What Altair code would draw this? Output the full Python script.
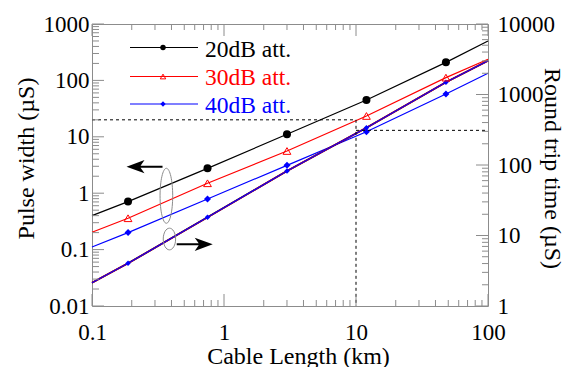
import altair as alt
import pandas as pd

FONT = "Liberation Serif"
W, H = 396, 282

# ---- data ----
cable_km_line = [0.1, 0.1875, 0.75, 3, 12, 48, 100]
pulse20_line = [0.40, 0.71, 2.76, 11.1, 45.0, 209, 500]
pulse30_line = [0.203, 0.36, 1.50, 5.6, 23.4, 112, 237]
pulse40_line = [0.111, 0.20, 0.79, 3.12, 12.3, 57.4, 134]
roundtrip_line = [2.14, 4.03, 18.1, 82.2, 338, 1489, 3015]

cable_km_pts = [0.1875, 0.75, 3, 12, 48]
pulse20_pts = [0.71, 2.76, 11.1, 44.9, 209]
pulse30_pts = [0.36, 1.50, 5.6, 23.4, 112]
pulse40_pts = [0.20, 0.79, 3.12, 12.3, 57.4]
roundtrip_pts = [4.03, 18.1, 82.2, 338, 1489]

series_labels = ["20dB att.", "30dB att.", "40dB att."]
series_colors = ["#000000", "#ff0000", "#0000ff"]

x_ticks = [0.1, 1, 10, 100]
left_ticks = [0.01, 0.1, 1, 10, 100, 1000]
right_ticks = [1, 10, 100, 1000, 10000]

guide_pulse_us = 20
guide_km = 10
guide_roundtrip_us = 310

# annotations: (km, pulse width µS)
ellipse_big = (0.366, 0.90)
ellipse_small = (0.386, 0.154)
arrow_left = (0.25, 2.95)
arrow_right = (0.60, 0.124)

xs = alt.Scale(type="log", domain=[0.1, 100], nice=False)
yl = alt.Scale(type="log", domain=[0.01, 1000], nice=False)
yr = alt.Scale(type="log", domain=[1, 10000], nice=False)

AX = dict(ticks=False, tickSize=0, domain=False, grid=False, labelOverlap=False,
          labelFont=FONT, labelFontSize=23, labelColor="#000",
          titleFont=FONT, titleFontSize=24, titleFontWeight="normal", titleColor="#000",
          format="~g")

x_axis = alt.Axis(values=x_ticks, title="Cable Length (km)", labelFlush=False,
                  labelPadding=33, labelBaseline="alphabetic",
                  titleX=206, titleY=57, titleBaseline="alphabetic", **AX)
yl_axis = alt.Axis(values=left_ticks, orient="left", title="Pulse width (µS)",
                   labelPadding=3, titleAngle=270, titleX=-59, titleY=134,
                   titleBaseline="alphabetic", titleAlign="center", **AX)
yr_axis = alt.Axis(values=right_ticks, orient="right", title="Round trip time (µS)",
                   labelPadding=9, titleAngle=90, titleX=56, titleY=144,
                   titleBaseline="alphabetic", titleAlign="center", **AX)


def X(field):
    return alt.X(field, scale=xs, axis=x_axis)


def minor(decades):
    return [m * d for d in decades for m in range(2, 10)]


layers = []
pulse_lines = [pulse20_line, pulse30_line, pulse40_line]
pulse_pts = [pulse20_pts, pulse30_pts, pulse40_pts]
marker_cfg = [
    dict(shape="circle", filled=True),
    dict(shape="triangle-up", filled=False),
    dict(shape="diamond", filled=True),
]
marker_size = [64, 60, 49]
legend_marker_size = [30, 30, 28]

for i in range(3):
    df = pd.DataFrame({"km": cable_km_line, "v": pulse_lines[i]})
    layers.append(
        alt.Chart(df).mark_line(color=series_colors[i], strokeWidth=1.2).encode(
            x=X("km:Q"),
            y=alt.Y("v:Q", scale=yl, axis=yl_axis if i == 0 else None),
        )
    )

# round trip lines (right scale)
rt_df = pd.DataFrame({"km": cable_km_line, "v": roundtrip_line})
for i, (c, w) in enumerate([("#000000", 1.8), ("#ff0000", 1.6), ("#0000ff", 1.2)]):
    layers.append(
        alt.Chart(rt_df).mark_line(color=c, strokeWidth=w).encode(
            x=X("km:Q"),
            y=alt.Y("v:Q", scale=yr, axis=yr_axis if i == 0 else None),
        )
    )
layers.append(
    alt.Chart(pd.DataFrame({"km": cable_km_pts, "v": roundtrip_pts}))
    .mark_point(shape="diamond", filled=True, size=30, color="#0000ff", opacity=1)
    .encode(x=X("km:Q"), y=alt.Y("v:Q", scale=yr, axis=None))
)

for i in range(3):
    df = pd.DataFrame({"km": cable_km_pts, "v": pulse_pts[i]})
    layers.append(
        alt.Chart(df).mark_point(color=series_colors[i], opacity=1, strokeWidth=1,
                                 size=marker_size[i], **marker_cfg[i]).encode(
            x=X("km:Q"),
            y=alt.Y("v:Q", scale=yl, axis=None),
        )
    )

# dashed guides
dash = dict(color="#000", strokeWidth=1, strokeDash=[3, 3])
layers.append(
    alt.Chart(pd.DataFrame({"a": [0.1], "b": [guide_km], "v": [guide_pulse_us]}))
    .mark_rule(**dash)
    .encode(x=X("a:Q"), x2="b:Q", y=alt.Y("v:Q", scale=yl, axis=None))
)
layers.append(
    alt.Chart(pd.DataFrame({"a": [guide_km], "v": [guide_pulse_us], "w": [0.01]}))
    .mark_rule(**dash)
    .encode(x=X("a:Q"), y=alt.Y("v:Q", scale=yl, axis=None), y2="w:Q")
)
layers.append(
    alt.Chart(pd.DataFrame({"a": [guide_km], "b": [100], "v": [guide_roundtrip_us]}))
    .mark_rule(**dash)
    .encode(x=X("a:Q"), x2="b:Q", y=alt.Y("v:Q", scale=yr, axis=None))
)


# inward ticks
def yticks(vals, scale, x0, length):
    return (alt.Chart(pd.DataFrame({"v": vals})).mark_rule(color="#8c8c8c", strokeWidth=1)
            .encode(y=alt.Y("v:Q", scale=scale, axis=None),
                    x=alt.value(x0), x2=alt.value(x0 + length)))


def xticks(vals, y0, length):
    return (alt.Chart(pd.DataFrame({"v": vals})).mark_rule(color="#8c8c8c", strokeWidth=1)
            .encode(x=X("v:Q"), y=alt.value(y0), y2=alt.value(y0 + length)))


layers += [
    yticks(left_ticks, yl, 0, 12),
    yticks(minor([0.01, 0.1, 1, 10, 100]), yl, 0, 7),
    yticks(right_ticks, yr, W, -12),
    yticks(minor([1, 10, 100, 1000]), yr, W, -6),
    xticks(x_ticks, H, -12),
    xticks(minor([0.1, 1, 10]), H, -6),
    xticks(x_ticks, 0, 12),
    xticks(minor([0.1, 1, 10]), 0, 6),
]

# ellipses and arrows
ell_big = "M0,-1 A0.23,1 0 1,1 0,1 A0.23,1 0 1,1 0,-1 Z"
ell_small = "M0,-1 A0.57,1 0 1,1 0,1 A0.57,1 0 1,1 0,-1 Z"
arr_l = "M-1,0 L0,-0.37 L-0.22,-0.055 L1,-0.055 L1,0.055 L-0.22,0.055 L0,0.37 Z"
arr_r = "M1,0 L0,-0.37 L0.22,-0.055 L-1,-0.055 L-1,0.055 L0.22,0.055 L0,0.37 Z"

for (pos, shape, size, filled, col) in [
    (ellipse_big, ell_big, 3025, False, "#8c8c8c"),
    (ellipse_small, ell_small, 471, False, "#8c8c8c"),
    (arrow_left, arr_l, 1296, True, "#000"),
    (arrow_right, arr_r, 1296, True, "#000"),
]:
    layers.append(
        alt.Chart(pd.DataFrame({"km": [pos[0]], "v": [pos[1]]}))
        .mark_point(shape=shape, size=size, filled=filled, color=col, opacity=1,
                    strokeWidth=1 if not filled else 0)
        .encode(x=X("km:Q"), y=alt.Y("v:Q", scale=yl, axis=None))
    )

# legend (inside the plot, top-left)
legend_line_y = [23.5, 52.5, 80]
legend_text_y = [32.7, 61, 88.7]
for i in range(3):
    d = pd.DataFrame({"label": [series_labels[i]]})
    layers.append(alt.Chart(d).mark_rule(color=series_colors[i], strokeWidth=1.2)
                  .encode(x=alt.value(38), x2=alt.value(106), y=alt.value(legend_line_y[i])))
    layers.append(alt.Chart(d).mark_point(color=series_colors[i], opacity=1, strokeWidth=1,
                                          size=legend_marker_size[i], **marker_cfg[i])
                  .encode(x=alt.value(71), y=alt.value(legend_line_y[i])))
    layers.append(alt.Chart(d).mark_text(align="left", baseline="alphabetic", font=FONT,
                                         fontSize=23.5, color=series_colors[i])
                  .encode(x=alt.value(113), y=alt.value(legend_text_y[i]), text="label:N"))

chart = (
    alt.layer(*layers)
    .resolve_scale(y="independent")
    .properties(width=W, height=H, autosize="none",
                padding={"left": 92, "top": 24, "right": 80, "bottom": 61},
                background="white")
    .configure(font=FONT)
    .configure_text(font=FONT)
    .configure_view(stroke="#8c8c8c", strokeWidth=1)
)

chart.save("out.html", embed_options={"renderer": "svg", "actions": False})
